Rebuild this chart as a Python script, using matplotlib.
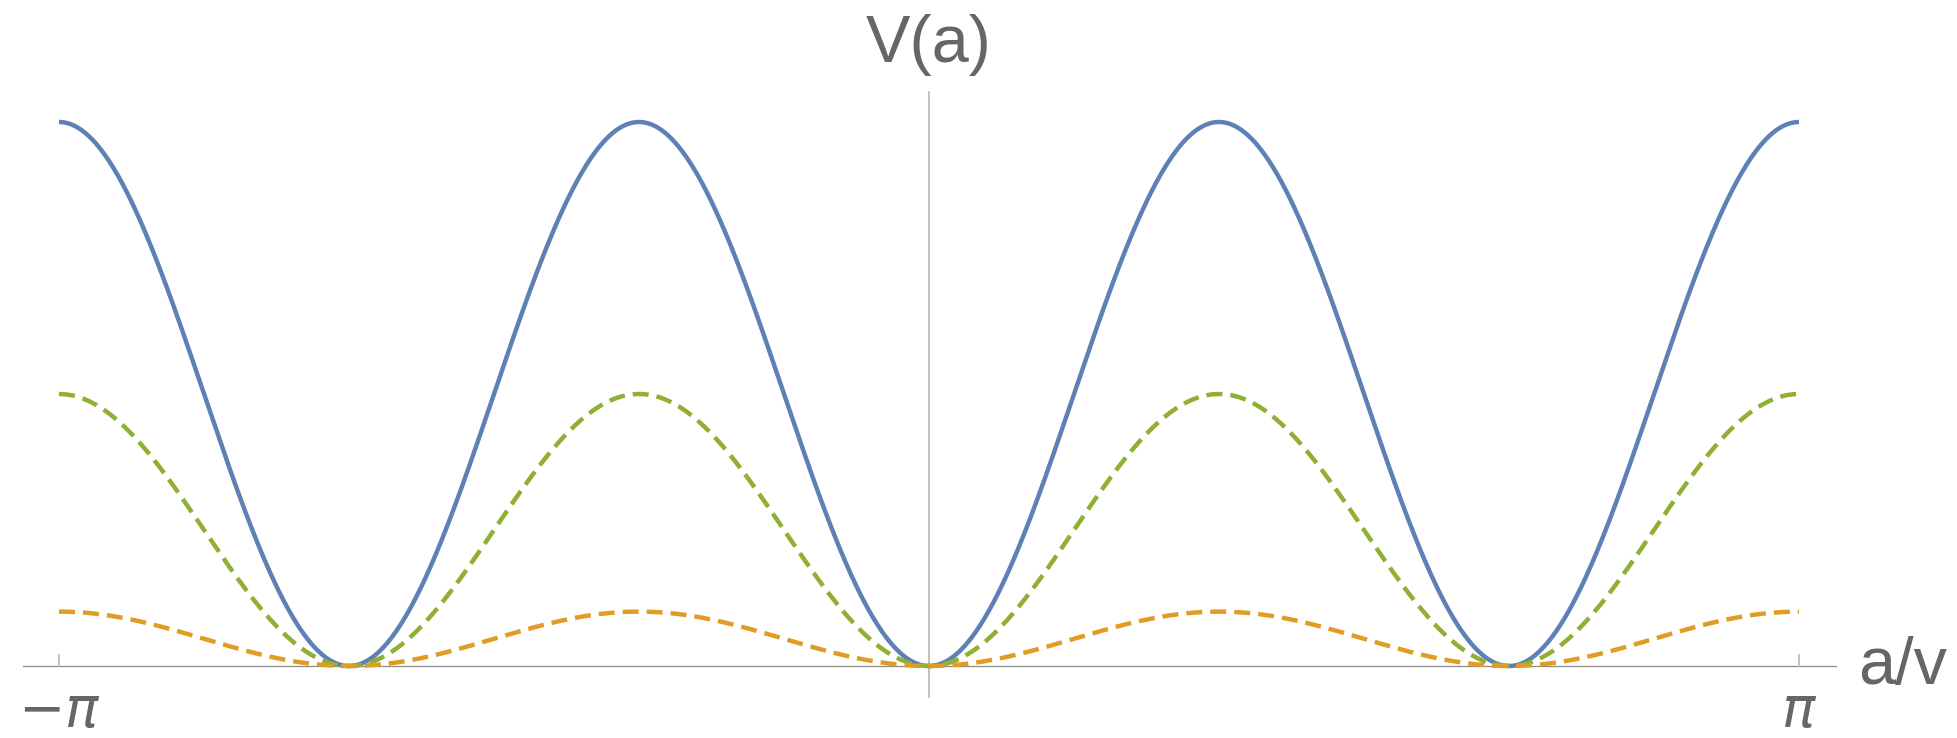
import numpy as np
import matplotlib
matplotlib.use("Agg")
import matplotlib.pyplot as plt

# V(a) = P * (1 - cos(3 a)) / 2, peak heights P
peaks = [1.0, 0.5, 0.1]
colors = ["#5E81B5", "#8FB032", "#E19C24"]
styles = ["solid", "dashed", "dashed"]
freq = 3
tick_pos = [-np.pi, np.pi]
tick_labels = [r"$-\pi$", r"$\pi$"]

W, H = 1957, 738
x0, xpi = 929, 870        # pixel of a=0, pixels per pi
y0, yunit = 666, 544      # pixel of V=0, pixels per unit V

fig = plt.figure(figsize=(W / 100, H / 100), dpi=100)
ax = fig.add_axes([0, 0, 1, 1])
ax.set_xlim(-x0 / xpi * np.pi, (W - x0) / xpi * np.pi)
ax.set_ylim(-(H - y0) / yunit, y0 / yunit)
ax.axis("off")

a = np.linspace(-np.pi, np.pi, 2000)
for p, c, ls in zip(peaks, colors, styles):
    line, = ax.plot(a, p * (1 - np.cos(freq * a)) / 2, color=c, lw=3.2,
                    solid_capstyle="butt", zorder=3)
    if ls == "dashed":
        line.set_dashes([3.6, 1.8])
        line.set_dash_capstyle("butt")

# axes drawn Mathematica-style
ax.plot([(23 - x0) / xpi * np.pi, (1836 - x0) / xpi * np.pi], [0, 0],
        color="#8a8a8a", lw=0.9, zorder=2)
ax.plot([0, 0], [-(697 - y0) / yunit, (y0 - 92) / yunit],
        color="#b8b8b8", lw=1.2, zorder=2)
for t in tick_pos:
    ax.plot([t, t], [0, 11 / yunit], color="#b8b8b8", lw=1.2, zorder=2)

gray = "#666666"
plt.rcParams["mathtext.fontset"] = "dejavusans"
for t, lab in zip(tick_pos, tick_labels):
    ax.text(t, -(727 - y0) / yunit, lab, ha="center", va="baseline",
            fontsize=40, color=gray)
ax.text((1858 - x0) / xpi * np.pi, -(684 - y0) / yunit, "a/v", ha="left",
        va="baseline", fontsize=48, color=gray, family="Liberation Sans")
ax.text(0, -(62 - y0) / yunit, "V(a)", ha="center", va="baseline",
        fontsize=48, color=gray, family="Liberation Sans")

fig.savefig("out.png", dpi=100)
